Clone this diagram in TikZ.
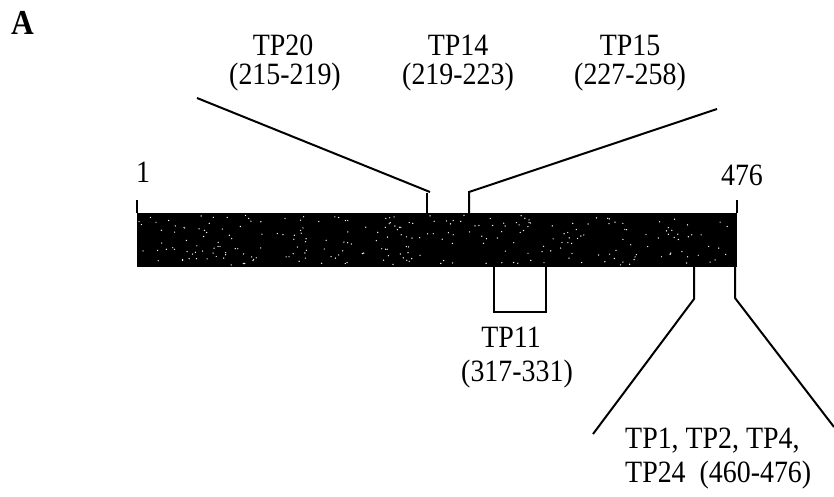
\documentclass[tikz,border=0pt]{standalone}
\usepackage{fontspec}
\setmainfont{Liberation Serif}[FakeStretch=0.9]
\begin{document}
\begin{tikzpicture}[x=1pt,y=-1pt,
  lbl/.style={inner sep=0pt,anchor=base,font=\fontsize{31}{33}\selectfont},
  lead/.style={line width=2pt,line cap=butt,line join=miter}]
\useasboundingbox (0,0) rectangle (834,496);
% panel letter
\node[inner sep=0pt,anchor=base west,font=\fontsize{35}{38}\selectfont\bfseries] (A) at (11,34) {A};
% the bar
\fill[black] (137,213) rectangle (737,267);
\pgfmathsetseed{7}
\foreach \i in {1,...,260}{
  \pgfmathsetmacro\xx{139+596*rnd}
  \pgfmathsetmacro\yy{215+50*rnd}
  \fill[white] (\xx,\yy) circle (0.7pt);
}
\coordinate (barTL) at (137,213);
\coordinate (barTR) at (737,213);
% end ticks
\draw[lead] (137,200) -- (barTL);
\draw[lead] (737,200) -- (barTR);
\node[lbl] (n1) at (143,182) {1};
\node[lbl] (n476) at (742,185) {476};
% top labels
\node[lbl] (tp20a) at (283,55) {TP20};
\node[lbl] (tp20b) at (285,84) {(215-219)};
\node[lbl] (tp14a) at (458,55) {TP14};
\node[lbl] (tp14b) at (458,84) {(219-223)};
\node[lbl] (tp15a) at (630,55) {TP15};
\node[lbl] (tp15b) at (630,84) {(227-258)};
% TP20 leader
\coordinate (l20s) at (197,98);
\coordinate (l20e) at (430,192);
\coordinate (t20) at (427,192.5);
\coordinate (t20b) at (427,213);
\draw[lead] (l20s) -- (l20e);
\draw[lead] (t20) -- (t20b);
% TP14/TP15 leader
\coordinate (l15s) at (717,109);
\coordinate (t15) at (469,192);
\coordinate (t15b) at (469,213);
\draw[lead] (l15s) -- (t15) -- (t15b);
% TP11 bracket
\coordinate (b11a) at (494,267);
\coordinate (b11b) at (546,267);
\draw[lead] (b11a) -- (494,312) -- (546,312) -- (b11b);
\node[lbl] (tp11a) at (511,347) {TP11};
\node[lbl] (tp11b) at (517,381) {(317-331)};
% TP1 leaders
\coordinate (c1a) at (694,267);
\coordinate (c1b) at (694,299);
\coordinate (c1c) at (593,434);
\coordinate (c2a) at (735,267);
\coordinate (c2b) at (735,298);
\coordinate (c2c) at (834,427);
\draw[lead] (c1a) -- (c1b) -- (c1c);
\draw[lead] (c2a) -- (c2b) -- (c2c);
\node[lbl,anchor=base west] (tp1a) at (625,448) {TP1, TP2, TP4,};
\node[lbl,anchor=base west] (tp1b) at (625,482) {TP24\ \ (460-476)};
\end{tikzpicture}
\end{document}
